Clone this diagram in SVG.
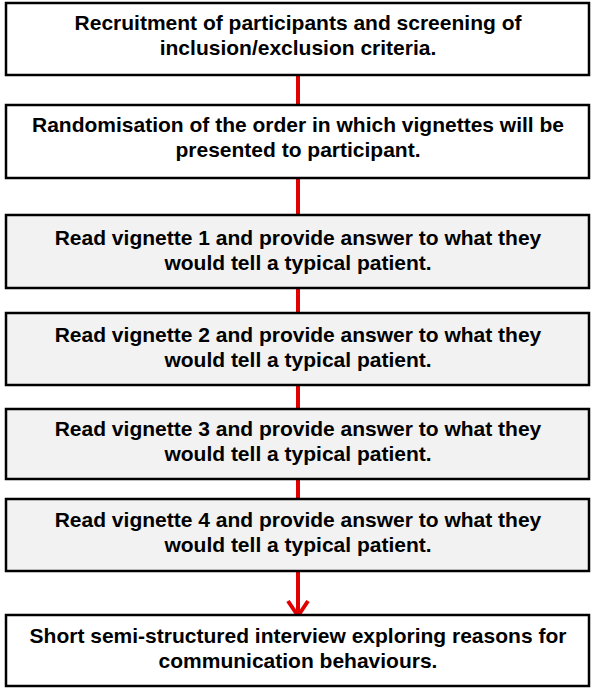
<svg xmlns="http://www.w3.org/2000/svg" width="592" height="695" viewBox="0 0 592 695">
<defs>
<style>
.box{stroke:#000;stroke-width:2.5}
.w{fill:#fff}
.g{fill:#f2f2f2}
.t{font-family:"Liberation Sans",Arial,sans-serif;font-weight:bold;font-size:21px;fill:#000;text-anchor:middle}
.c{stroke:#e00000;stroke-width:4;fill:none}
</style>
</defs>
<rect width="592" height="695" fill="#fff"/>
<g id="connectors">
<line class="c" x1="298" y1="75" x2="298" y2="105"/>
<line class="c" x1="298" y1="178" x2="298" y2="215"/>
<line class="c" x1="298" y1="288" x2="298" y2="313"/>
<line class="c" x1="298" y1="385" x2="298" y2="409"/>
<line class="c" x1="298" y1="479" x2="298" y2="499"/>
<line class="c" x1="298" y1="571" x2="298" y2="616"/>
<polyline class="c" points="288,601 298,616 308,601"/>
</g>
<g id="n1">
<rect class="box w" x="6" y="3" width="583" height="72"/>
<text class="t" x="298" y="30">Recruitment of participants and screening of</text>
<text class="t" x="298" y="55">inclusion/exclusion criteria.</text>
</g>
<g id="n2">
<rect class="box w" x="6" y="105" width="583" height="73"/>
<text class="t" x="298" y="132">Randomisation of the order in which vignettes will be</text>
<text class="t" x="298" y="157">presented to participant.</text>
</g>
<g id="n3">
<rect class="box g" x="6" y="215" width="583" height="73"/>
<text class="t" x="298" y="245">Read vignette 1 and provide answer to what they</text>
<text class="t" x="298" y="270">would tell a typical patient.</text>
</g>
<g id="n4">
<rect class="box g" x="6" y="313" width="583" height="72"/>
<text class="t" x="298" y="342">Read vignette 2 and provide answer to what they</text>
<text class="t" x="298" y="367">would tell a typical patient.</text>
</g>
<g id="n5">
<rect class="box g" x="6" y="409" width="583" height="70"/>
<text class="t" x="298" y="436">Read vignette 3 and provide answer to what they</text>
<text class="t" x="298" y="461">would tell a typical patient.</text>
</g>
<g id="n6">
<rect class="box g" x="6" y="499" width="583" height="72"/>
<text class="t" x="298" y="527">Read vignette 4 and provide answer to what they</text>
<text class="t" x="298" y="552">would tell a typical patient.</text>
</g>
<g id="n7">
<rect class="box w" x="6" y="615" width="583" height="71"/>
<text class="t" x="298" y="643">Short semi-structured interview exploring reasons for</text>
<text class="t" x="298" y="668">communication behaviours.</text>
</g>
</svg>
